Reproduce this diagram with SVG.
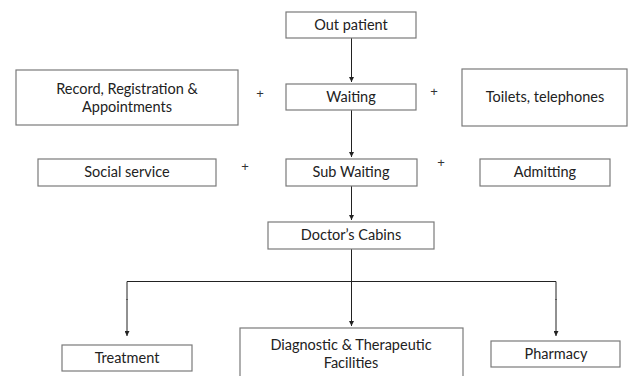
<svg xmlns="http://www.w3.org/2000/svg" width="629" height="376" viewBox="0 0 629 376">
<style>
.box{fill:#fff;stroke:#7a7a7a;stroke-width:1.2}
.t{font-family:Lato,"Liberation Sans",sans-serif;font-size:14.5px;fill:#222;text-anchor:middle}
.plus{font-family:"Liberation Sans",sans-serif;font-size:13px;fill:#333;text-anchor:middle}
.c{fill:none;stroke:#222;stroke-width:1}
</style>
<defs>
<marker id="ah" viewBox="0 0 6 6" refX="6" refY="3" markerWidth="5" markerHeight="5" orient="auto" markerUnits="userSpaceOnUse">
<path d="M0,0 L6,3 L0,6 Z" fill="#222"/>
</marker>
</defs>
<rect width="629" height="376" fill="#fff"/>
<g id="connectors">
<line class="c" x1="351.5" y1="38" x2="351.5" y2="82" marker-end="url(#ah)"/>
<line class="c" x1="351.5" y1="110" x2="351.5" y2="157" marker-end="url(#ah)"/>
<line class="c" x1="351.5" y1="186" x2="351.5" y2="220" marker-end="url(#ah)"/>
<line class="c" x1="351.5" y1="249" x2="351.5" y2="326" marker-end="url(#ah)"/>
<polyline class="c" points="127,300 127,281.5 556,281.5 556,300" stroke="#555"/>
<line class="c" x1="127" y1="299" x2="127" y2="336" stroke="#555" marker-end="url(#ah)"/>
<line class="c" x1="556" y1="299" x2="556" y2="336" stroke="#555" marker-end="url(#ah)"/>
</g>
<g id="out-patient">
<rect class="box" x="286" y="12" width="130" height="26"/>
<text class="t" x="351" y="30">Out patient</text>
</g>
<g id="waiting">
<rect class="box" x="286" y="84" width="130" height="26"/>
<text class="t" x="351" y="102">Waiting</text>
</g>
<g id="record">
<rect class="box" x="16" y="70" width="222" height="55"/>
<text class="t" x="127" y="94">Record, Registration &amp;</text>
<text class="t" x="127" y="112">Appointments</text>
</g>
<g id="toilets">
<rect class="box" x="462" y="69" width="165" height="57"/>
<text class="t" x="545" y="102">Toilets, telephones</text>
</g>
<g id="social-service">
<rect class="box" x="38" y="159" width="178" height="27"/>
<text class="t" x="127" y="177">Social service</text>
</g>
<g id="sub-waiting">
<rect class="box" x="286" y="159" width="131" height="27"/>
<text class="t" x="351" y="177">Sub Waiting</text>
</g>
<g id="admitting">
<rect class="box" x="480" y="159" width="130" height="27"/>
<text class="t" x="545" y="177">Admitting</text>
</g>
<g id="doctors-cabins">
<rect class="box" x="268" y="222" width="166" height="27"/>
<text class="t" x="351" y="240">Doctor’s Cabins</text>
</g>
<g id="treatment">
<rect class="box" x="62" y="345" width="130" height="26"/>
<text class="t" x="127" y="363">Treatment</text>
</g>
<g id="diagnostic">
<rect class="box" x="240" y="328" width="223" height="60"/>
<text class="t" x="351" y="350">Diagnostic &amp; Therapeutic</text>
<text class="t" x="351" y="368">Facilities</text>
</g>
<g id="pharmacy">
<rect class="box" x="491" y="341" width="129" height="26"/>
<text class="t" x="556" y="359">Pharmacy</text>
</g>
<g id="plus-signs">
<text class="plus" x="260" y="98">+</text>
<text class="plus" x="434" y="96">+</text>
<text class="plus" x="245" y="171">+</text>
<text class="plus" x="441" y="167">+</text>
</g>
</svg>
